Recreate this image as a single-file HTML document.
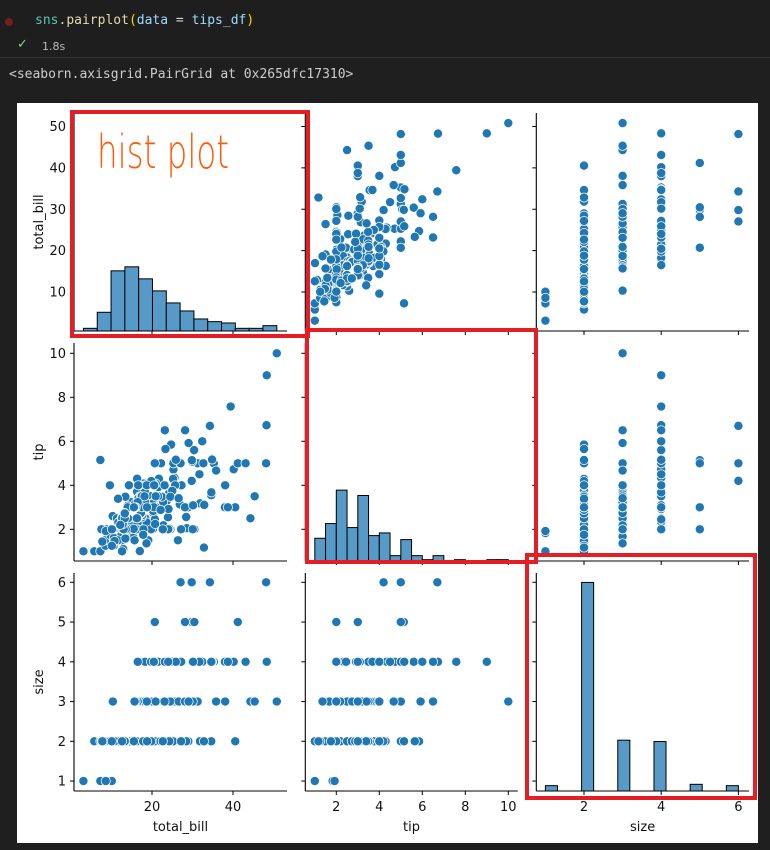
<!DOCTYPE html>
<html><head><meta charset="utf-8"><style>
body{margin:0;width:770px;height:850px;background:#1f1f1f;overflow:hidden;position:relative;font-family:"DejaVu Sans","Liberation Sans",sans-serif}
.code{position:absolute;left:35px;top:13px;font:13px "DejaVu Sans Mono","Liberation Mono",monospace;color:#d4d4d4;white-space:pre}
.hdr{position:absolute;left:0;top:0;width:770px;height:57px;background:#1e1e1e;border-bottom:1px solid #333}
.out{position:absolute;left:9px;top:67px;font:13px "DejaVu Sans Mono","Liberation Mono",monospace;color:#cccccc;white-space:pre}
</style></head><body>
<div class="hdr">
<div style="position:absolute;left:5px;top:18px;width:8px;height:8px;border-radius:50%;background:#7a1c1c"></div>
<div class="code"><span style="color:#4ec9b0">sns</span>.<span style="color:#dcdcaa">pairplot</span><span style="color:#ffd700">(</span><span style="color:#9cdcfe">data</span> = <span style="color:#9cdcfe">tips_df</span><span style="color:#ffd700">)</span></div>
<div style="position:absolute;left:17px;top:37px;color:#89d185;font-size:13px">✓</div>
<div style="position:absolute;left:42px;top:40px;color:#bbbbbb;font-size:11px">1.8s</div>
</div>
<div class="out">&lt;seaborn.axisgrid.PairGrid at 0x265dfc17310&gt;</div>
<svg id="fig" width="770" height="850" style="position:absolute;left:0;top:0"></svg>
<script>
const totalBill=[16.99,10.34,21.01,23.68,24.59,25.29,8.77,26.88,15.04,14.78,10.27,35.26,15.42,18.43,14.83,21.58,10.33,16.29,16.97,20.65,17.92,20.29,15.77,39.42,19.82,17.81,13.37,12.69,21.7,19.65,9.55,18.35,15.06,20.69,17.78,24.06,16.31,16.93,18.69,31.27,16.04,17.46,13.94,9.68,30.4,18.29,22.23,32.4,28.55,18.04,12.54,10.29,34.81,9.94,25.56,19.49,38.01,26.41,11.24,48.27,20.29,13.81,11.02,18.29,17.59,20.08,16.45,3.07,20.23,15.01,12.02,17.07,26.86,25.28,14.73,10.51,17.92,27.2,22.76,17.29,19.44,16.66,10.07,32.68,15.98,34.83,13.03,18.28,24.71,21.16,28.97,22.49,5.75,16.32,22.75,40.17,27.28,12.03,21.01,12.46,11.35,15.38,44.3,22.42,20.92,15.36,20.49,25.21,18.24,14.31,14.0,7.25,38.07,23.95,25.71,17.31,29.93,10.65,12.43,24.08,11.69,13.42,14.26,15.95,12.48,29.8,8.52,14.52,11.38,22.82,19.08,20.27,11.17,12.26,18.26,8.51,10.33,14.15,16.0,13.16,17.47,34.3,41.19,27.05,16.43,8.35,18.64,11.87,9.78,7.51,14.07,13.13,17.26,24.55,19.77,29.85,48.17,25.0,13.39,16.49,21.5,12.66,16.21,13.81,17.51,24.52,20.76,31.71,10.59,10.63,50.81,15.81,7.25,31.85,16.82,32.9,17.89,14.48,9.6,34.63,34.65,23.33,45.35,23.17,40.55,20.69,20.9,30.46,18.15,23.1,15.69,19.81,28.44,15.48,16.58,7.56,10.34,43.11,13.0,13.51,18.71,12.74,13.0,16.4,20.53,16.47,26.59,38.73,24.27,12.76,30.06,25.89,48.33,13.27,28.17,12.9,28.15,11.59,7.74,30.14,12.16,13.42,8.58,15.98,13.42,16.27,10.09,20.45,13.28,22.12,24.01,15.69,11.61,10.77,15.53,10.07,12.6,32.83,35.83,29.03,27.18,22.67,17.82,18.78];
const tip=[1.01,1.66,3.5,3.31,3.61,4.71,2.0,3.12,1.96,3.23,1.71,5.0,1.57,3.0,3.02,3.92,1.67,3.71,3.5,3.35,4.08,2.75,2.23,7.58,3.18,2.34,2.0,2.0,4.3,3.0,1.45,2.5,3.0,2.45,3.27,3.6,2.0,3.07,2.31,5.0,2.24,2.54,3.06,1.32,5.6,3.0,5.0,6.0,2.05,3.0,2.5,2.6,5.2,1.56,4.34,3.51,3.0,1.5,1.76,6.73,3.21,2.0,1.98,3.76,2.64,3.15,2.47,1.0,2.01,2.09,1.97,3.0,3.14,5.0,2.2,1.25,3.08,4.0,3.0,2.71,3.0,3.4,1.83,5.0,2.03,5.17,2.0,4.0,5.85,3.0,3.0,3.5,1.0,4.3,3.25,4.73,4.0,1.5,3.0,1.5,2.5,3.0,2.5,3.48,4.08,1.64,4.06,4.29,3.76,4.0,3.0,1.0,4.0,2.55,4.0,3.5,5.07,1.5,1.8,2.92,2.31,1.68,2.5,2.0,2.52,4.2,1.48,2.0,2.0,2.18,1.5,2.83,1.5,2.0,3.25,1.25,2.0,2.0,2.0,2.75,3.5,6.7,5.0,5.0,2.3,1.5,1.36,1.63,1.73,2.0,2.5,2.0,2.74,2.0,2.0,5.14,5.0,3.75,2.61,2.0,3.5,2.5,2.0,2.0,3.0,3.48,2.24,4.5,1.61,2.0,10.0,3.16,5.15,3.18,4.0,3.11,2.0,2.0,4.0,3.55,3.68,5.65,3.5,6.5,3.0,5.0,3.5,2.0,3.5,4.0,1.5,4.19,2.56,2.02,4.0,1.44,2.0,5.0,2.0,2.0,4.0,2.01,2.0,2.5,4.0,3.23,3.41,3.0,2.03,2.23,2.0,5.16,9.0,2.5,6.5,1.1,3.0,1.5,1.44,3.09,2.2,3.48,1.92,3.0,1.58,2.5,2.0,3.0,2.72,2.88,2.0,3.0,3.39,1.47,3.0,1.25,1.0,1.17,4.67,5.92,2.0,2.0,1.75,3.0];
const size=[2,3,3,2,4,4,2,4,2,2,2,4,2,4,2,2,3,3,3,3,2,2,2,4,2,4,2,2,2,2,2,4,2,4,2,3,3,3,3,3,3,2,2,2,4,2,2,4,3,2,2,2,4,2,4,2,4,2,2,4,2,2,2,4,3,3,2,1,2,2,2,3,2,2,2,2,2,4,2,2,2,2,1,2,2,4,2,2,2,2,2,2,2,2,2,4,2,2,2,2,2,2,3,2,2,2,2,2,2,2,2,1,3,2,3,2,4,2,2,4,2,2,2,2,2,6,2,2,2,3,2,2,2,2,2,2,2,2,2,2,2,6,5,6,2,2,3,2,2,2,2,2,3,4,4,5,6,4,2,4,4,2,3,2,2,3,2,4,2,2,3,2,2,2,2,2,2,2,2,2,4,2,3,4,2,5,3,5,3,3,2,2,2,2,2,2,2,4,2,2,3,2,2,2,4,3,3,4,2,2,3,4,4,2,3,2,5,2,2,4,2,2,1,3,2,2,2,4,2,2,4,3,2,2,2,2,2,2,3,3,2,2,2,2];
const varNames=["total_bill","tip","size"];
const xTickLabels=[[20,40],[2,4,6,8,10],[2,4,6]];
const yTickLabels=[[10,20,30,40,50],[2,4,6,8,10],[1,2,3,4,5,6]];
const binCounts=[14,18,16];

const svg=document.getElementById('fig');
const NS='http://www.w3.org/2000/svg';
function mk(tag,attrs,parent){const e=document.createElementNS(NS,tag);for(const k in attrs)e.setAttribute(k,attrs[k]);(parent||svg).appendChild(e);return e;}
const cols=[{l:74,r:287,v0:20,p0:152,s:4.05},{l:305.3,r:517.7,v0:2,p0:336.3,s:21.5},{l:536.3,r:749,v0:2,p0:584,s:38.6}];
const rows=[{t:113,b:331,v0:50,p0:126.5,s:4.1375},{t:343,b:561,v0:10,p0:353.3,s:22.0},{t:573,b:791,v0:6,p0:582.3,s:39.75}];
const series=[totalBill,tip,size];
function X(c,v){return cols[c].p0+(v-cols[c].v0)*cols[c].s;}
function Y(r,v){return rows[r].p0+(rows[r].v0-v)*rows[r].s;}
const countPx=1.337;

const bg=mk('rect',{x:17,y:103,width:741,height:740,fill:'#ffffff'});



for(let r=0;r<3;r++){for(let c=0;c<3;c++){
  const g=mk('g',{});
  
  
  const C=cols[c],R=rows[r];
  if(r===c){
    const d=series[c];const mn=Math.min(...d),mx=Math.max(...d);const n=binCounts[c];const w=(mx-mn)/n;
    const counts=new Array(n).fill(0);
    d.forEach(v=>{let i=Math.floor((v-mn)/w);if(i>=n)i=n-1;counts[i]++;});
    counts.forEach((ct,i)=>{if(!ct)return;const x1=X(c,mn+i*w),x2=X(c,mn+(i+1)*w);const h=ct*countPx;
      const b=mk('rect',{x:x1,y:R.b-h,width:x2-x1,height:h,fill:'rgb(87,153,199)',stroke:'#000','stroke-width':1},g);
      
      });
  } else {
    const xs=series[c],ys=series[r];
    for(let i=0;i<xs.length;i++){
      const p=mk('circle',{cx:X(c,xs[i]),cy:Y(r,ys[i]),r:4.6,fill:'#1f77b4',stroke:'#ffffff','stroke-width':0.75},g);
      
      
    }
  }
  mk('line',{x1:C.l,y1:R.t,x2:C.l,y2:R.b,stroke:'#000','stroke-width':1.1},g);
  mk('line',{x1:C.l,y1:R.b,x2:C.r,y2:R.b,stroke:'#000','stroke-width':1.1},g);
  yTickLabels[r].forEach(v=>{const y=Y(r,v);mk('line',{x1:C.l-4,y1:y,x2:C.l,y2:y,stroke:'#000'},g);
    if(c===0){const t=mk('text',{x:C.l-8,y:y+4.5,'text-anchor':'end','font-size':13,fill:'#111'},g);t.textContent=v;
      
      }});
  xTickLabels[c].forEach(v=>{const x=X(c,v);mk('line',{x1:x,y1:R.b,x2:x,y2:R.b+4,stroke:'#000'},g);
    if(r===2){const t=mk('text',{x:x,y:R.b+20,'text-anchor':'middle','font-size':13,fill:'#111'},g);t.textContent=v;
      
      }});
}}
for(let i=0;i<3;i++){
  const R=rows[i];const yl=mk('text',{x:0,y:0,'text-anchor':'middle','font-size':13,fill:'#111',transform:`translate(43,${(R.t+R.b)/2}) rotate(-90)`});
  yl.textContent=varNames[i];
  
  
  const C=cols[i];const xl=mk('text',{x:(C.l+C.r)/2,y:831,'text-anchor':'middle','font-size':13,fill:'#111'});
  xl.textContent=varNames[i];
  
  
}
const boxes=[[72,112,236,224],[307,330,229,232],[527,555,228,243]];
boxes.forEach(b=>{const e=mk('rect',{x:b[0],y:b[1],width:b[2],height:b[3],fill:'none',stroke:'#e31e24','stroke-width':4});
  
  });
const ann=mk('text',{x:97,y:168,'font-size':46,fill:'#ff5a0a','font-family':'DejaVu Sans ExtraLight, DejaVu Sans, sans-serif','font-weight':200,textLength:132,lengthAdjust:'spacingAndGlyphs'});
ann.textContent='hist plot';


</script>
</body></html>
